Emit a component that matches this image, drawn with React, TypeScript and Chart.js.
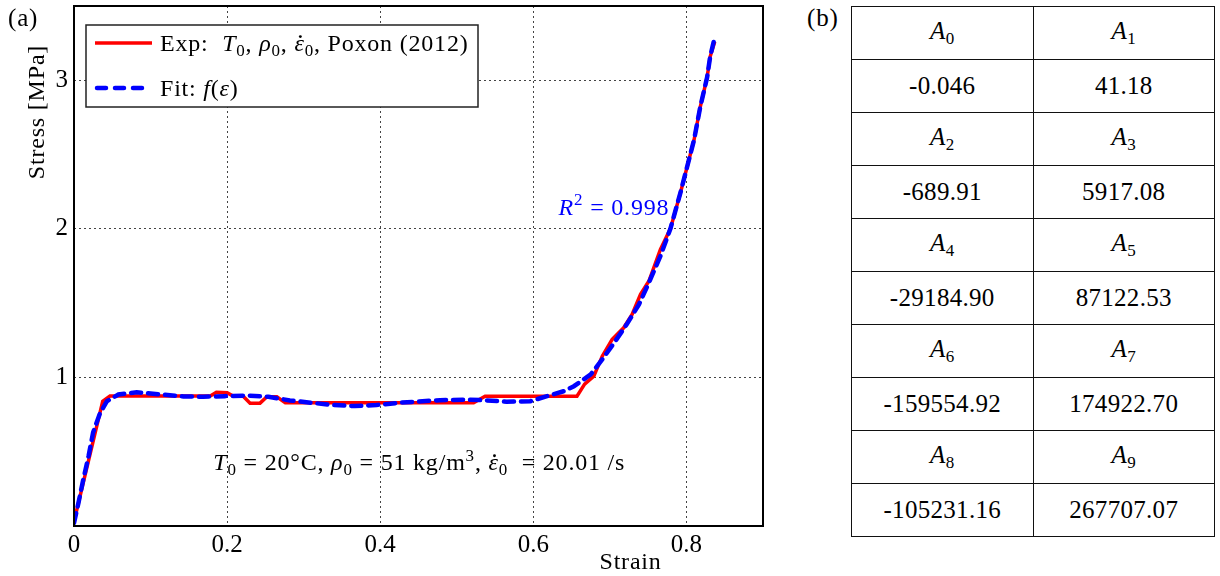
import React, { useEffect, useRef } from "react";
import { Chart, registerables } from "chart.js";

Chart.register(...registerables);

// ---------- data ----------
const expStrain = [0, 0.0375, 0.047, 0.178, 0.186, 0.2, 0.208, 0.221, 0.23, 0.243, 0.252, 0.265, 0.276, 0.522, 0.537, 0.657, 0.667, 0.679, 0.69, 0.703, 0.718, 0.729, 0.74, 0.751, 0.766, 0.779, 0.792, 0.801, 0.81, 0.818, 0.827, 0.831, 0.837];
const expStress = [0.03, 0.84, 0.875, 0.875, 0.9, 0.897, 0.874, 0.874, 0.827, 0.827, 0.87, 0.87, 0.829, 0.829, 0.874, 0.874, 0.955, 1.009, 1.143, 1.256, 1.334, 1.424, 1.559, 1.649, 1.862, 2.0, 2.24, 2.42, 2.6, 2.82, 3.02, 3.16, 3.26];

const fitStrain = [0, 0.006, 0.012, 0.019, 0.025, 0.034, 0.043, 0.058, 0.082, 0.112, 0.143, 0.169, 0.197, 0.226, 0.254, 0.282, 0.311, 0.339, 0.367, 0.395, 0.424, 0.478, 0.509, 0.535, 0.565, 0.596, 0.618, 0.64, 0.653, 0.675, 0.69, 0.707, 0.722, 0.738, 0.751, 0.766, 0.779, 0.792, 0.801, 0.81, 0.818, 0.827, 0.831, 0.837];
const fitStress = [0.02, 0.16, 0.31, 0.47, 0.63, 0.76, 0.84, 0.885, 0.9, 0.886, 0.872, 0.87, 0.874, 0.878, 0.87, 0.845, 0.829, 0.814, 0.807, 0.814, 0.829, 0.847, 0.85, 0.847, 0.836, 0.84, 0.874, 0.908, 0.941, 1.02, 1.121, 1.244, 1.357, 1.492, 1.638, 1.817, 2.0, 2.24, 2.42, 2.6, 2.82, 3.02, 3.16, 3.29];

const xTicks = [0, 0.2, 0.4, 0.6, 0.8];
const yTicks = [1, 2, 3];

const coefIndex = [0, 1, 2, 3, 4, 5, 6, 7, 8, 9];
const coefValues = ["-0.046", "41.18", "-689.91", "5917.08", "-29184.90", "87122.53", "-159554.92", "174922.70", "-105231.16", "267707.07"];

// ---------- styling ----------
const FONT = '"Liberation Serif", "Times New Roman", serif';
const FS = 24;
const LS = "0.8px";
const RED = "#ff0000";
const BLUE = "#0000ff";

type Seg = { t: string; it?: boolean; sub?: boolean; sup?: boolean; dot?: boolean };

function drawRich(ctx: CanvasRenderingContext2D, segs: Seg[], x: number, y: number, size: number, color: string, align: "left" | "center" = "left") {
  const fontFor = (s: Seg) => `${s.it ? "italic " : ""}${s.sub || s.sup ? Math.round(size * 0.7) : size}px ${FONT}`;
  ctx.save();
  (ctx as any).letterSpacing = LS;
  let total = 0;
  for (const s of segs) {
    ctx.font = fontFor(s);
    total += ctx.measureText(s.t).width;
  }
  let cx = align === "center" ? x - total / 2 : x;
  ctx.textBaseline = "alphabetic";
  ctx.textAlign = "left";
  ctx.fillStyle = color;
  for (const s of segs) {
    ctx.font = fontFor(s);
    const w = ctx.measureText(s.t).width;
    const dy = s.sub ? size * 0.22 : s.sup ? -size * 0.38 : 0;
    ctx.fillText(s.t, cx, y + dy);
    if (s.dot) {
      ctx.beginPath();
      ctx.arc(cx + w * 0.58, y - size * 0.6, size * 0.06, 0, Math.PI * 2);
      ctx.fill();
    }
    cx += w;
  }
  ctx.restore();
}

const legendExp: Seg[] = [
  { t: "Exp:  " }, { t: "T", it: true }, { t: "0", sub: true }, { t: ", " },
  { t: "ρ", it: true }, { t: "0", sub: true }, { t: ", " },
  { t: "ε", it: true, dot: true }, { t: "0", sub: true }, { t: ", Poxon (2012)" },
];
const legendFit: Seg[] = [{ t: "Fit: " }, { t: "f", it: true }, { t: "(" }, { t: "ε", it: true }, { t: ")" }];
const condText: Seg[] = [
  { t: "T", it: true }, { t: "0", sub: true }, { t: " = 20°C, " },
  { t: "ρ", it: true }, { t: "0", sub: true }, { t: " = 51 kg/m" }, { t: "3", sup: true }, { t: ", " },
  { t: "ε", it: true, dot: true }, { t: "0", sub: true }, { t: "  = 20.01 /s" },
];
const r2Text: Seg[] = [{ t: "R", it: true }, { t: "2", sup: true }, { t: " = 0.998" }];

const overlayPlugin = {
  id: "overlay",
  afterDraw(chart: any) {
    const ctx: CanvasRenderingContext2D = chart.ctx;
    const { left, right, top, bottom } = chart.chartArea;
    const xs = chart.scales.x;
    const ys = chart.scales.y;

    // annotations
    drawRich(ctx, condText, xs.getPixelForValue(0.182), ys.getPixelForValue(0.43) + 8, FS, "#000");
    drawRich(ctx, r2Text, xs.getPixelForValue(0.633), ys.getPixelForValue(2.15) + 8, FS, BLUE);

    // frame
    ctx.save();
    ctx.strokeStyle = "#000";
    ctx.lineWidth = 2;
    ctx.strokeRect(left, top, right - left, bottom - top);
    ctx.restore();

    // legend box
    const bx = left + 12, by = top + 19, bw = 392, bh = 82;
    ctx.save();
    ctx.fillStyle = "#fff";
    ctx.fillRect(bx, by, bw, bh);
    ctx.strokeStyle = "#222";
    ctx.lineWidth = 1.5;
    ctx.strokeRect(bx, by, bw, bh);
    ctx.lineCap = "butt";
    ctx.strokeStyle = RED;
    ctx.lineWidth = 3.5;
    ctx.beginPath();
    ctx.moveTo(bx + 9, by + 18);
    ctx.lineTo(bx + 66, by + 18);
    ctx.stroke();
    ctx.strokeStyle = BLUE;
    ctx.lineWidth = 4.5;
    ctx.lineCap = "round";
    ctx.setLineDash([9, 9]);
    ctx.beginPath();
    ctx.moveTo(bx + 11, by + 63);
    ctx.lineTo(bx + 64, by + 63);
    ctx.stroke();
    ctx.restore();
    drawRich(ctx, legendExp, bx + 74, by + 26, FS, "#000");
    drawRich(ctx, legendFit, bx + 74, by + 71, FS, "#000");

    // axis titles
    ctx.save();
    (ctx as any).letterSpacing = LS;
    ctx.fillStyle = "#000";
    ctx.font = `${FS}px ${FONT}`;
    ctx.textAlign = "center";
    ctx.textBaseline = "alphabetic";
    ctx.fillText("Strain", xs.getPixelForValue(0.727), bottom + 43);
    ctx.translate(left - 30, top + 106);
    ctx.rotate(-Math.PI / 2);
    ctx.fillText("Stress [MPa]", 0, 0);
    ctx.restore();
  },
};

function StressChart() {
  const ref = useRef<HTMLCanvasElement | null>(null);
  useEffect(() => {
    if (!ref.current) return;
    const chart = new Chart(ref.current, {
      type: "line",
      data: {
        datasets: [
          {
            label: "Fit",
            data: fitStrain.map((x, i) => ({ x, y: fitStress[i] })),
            borderColor: BLUE,
            borderWidth: 4.5,
            borderDash: [10, 7],
            borderCapStyle: "round",
            pointRadius: 0,
            tension: 0,
            fill: false,
            order: 0,
          },
          {
            label: "Exp",
            data: expStrain.map((x, i) => ({ x, y: expStress[i] })),
            borderColor: RED,
            borderWidth: 3.5,
            pointRadius: 0,
            tension: 0,
            fill: false,
            order: 1,
          },
        ],
      },
      options: {
        animation: false,
        responsive: false,
        devicePixelRatio: 1,
        layout: { padding: { left: 0, right: 37, top: 6, bottom: 0 } },
        plugins: { legend: { display: false }, tooltip: { enabled: false } },
        scales: {
          x: {
            type: "linear",
            min: 0,
            max: 0.9,
            afterBuildTicks: (s: any) => { s.ticks = xTicks.map((v) => ({ value: v })); },
            afterFit: (s: any) => { s.height = 50; s.paddingLeft = 0; s.paddingRight = 0; },
            ticks: {
              font: { family: FONT, size: 25 },
              color: "#000",
              padding: 4,
              maxRotation: 0,
              callback: (v: any) => String(Math.round(Number(v) * 10) / 10),
            },
            grid: { color: "#444", lineWidth: 1, drawTicks: false },
            border: { display: false, dash: [2, 3] },
          },
          y: {
            type: "linear",
            min: 0,
            max: 3.5,
            afterBuildTicks: (s: any) => { s.ticks = yTicks.map((v) => ({ value: v })); },
            afterFit: (s: any) => { s.width = 74; s.paddingTop = 0; s.paddingBottom = 0; },
            ticks: {
              font: { family: FONT, size: 25 },
              color: "#000",
              padding: 6,
              callback: (v: any) => String(v),
            },
            grid: { color: "#444", lineWidth: 1, drawTicks: false },
            border: { display: false, dash: [2, 3] },
          },
        },
      },
      plugins: [overlayPlugin],
    } as any);
    return () => chart.destroy();
  }, []);
  return <canvas ref={ref} width={800} height={576} style={{ position: "absolute", left: 0, top: 0, width: 800, height: 576 }} />;
}

function CoefTable() {
  const rows: number[][] = [];
  for (let i = 0; i < coefIndex.length; i += 2) rows.push([coefIndex[i], coefIndex[i + 1]]);
  const cell: React.CSSProperties = {
    border: "1.5px solid #111",
    textAlign: "center",
    verticalAlign: "middle",
    height: 52,
    padding: 0,
    width: "50%",
  };
  return (
    <table
      style={{
        position: "absolute",
        left: 851,
        top: 6,
        width: 364,
        height: 520,
        borderCollapse: "collapse",
        fontFamily: FONT,
        fontSize: 25,
        letterSpacing: "0.3px",
        color: "#000",
        tableLayout: "fixed",
      }}
    >
      <tbody>
        {rows.map((pair, r) => (
          <React.Fragment key={r}>
            <tr>
              {pair.map((k) => (
                <td key={k} style={cell}>
                  <i>A</i>
                  <sub style={{ fontSize: 17, verticalAlign: "-5px" }}>{k}</sub>
                </td>
              ))}
            </tr>
            <tr>
              {pair.map((k) => (
                <td key={k} style={cell}>{coefValues[k]}</td>
              ))}
            </tr>
          </React.Fragment>
        ))}
      </tbody>
    </table>
  );
}

export default function App() {
  const label: React.CSSProperties = { position: "absolute", top: 4, fontFamily: FONT, fontSize: 25, letterSpacing: "0.8px", color: "#000", lineHeight: "28px" };
  return (
    <div style={{ position: "absolute", left: 0, top: 0, width: 1220, height: 576, background: "#fff", overflow: "hidden" }}>
      <StressChart />
      <div style={{ ...label, left: 8 }}>(a)</div>
      <div style={{ ...label, left: 807 }}>(b)</div>
      <CoefTable />
    </div>
  );
}
